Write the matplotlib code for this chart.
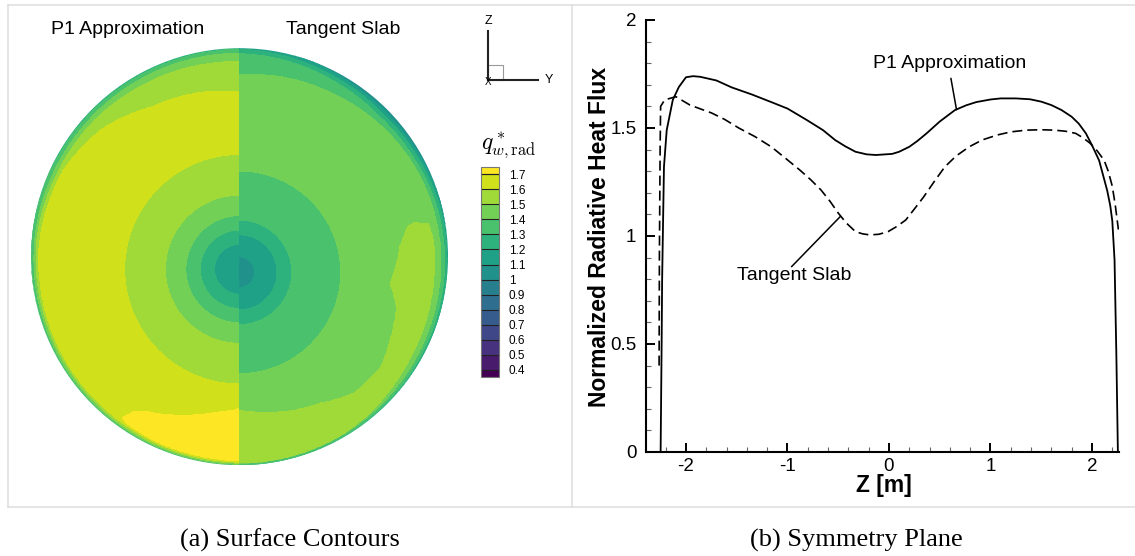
import numpy as np
import matplotlib
matplotlib.use("Agg")
import matplotlib.pyplot as plt
from matplotlib.patches import Circle, Rectangle
from matplotlib.ticker import MultipleLocator, FuncFormatter

W, H = 1135, 556

# (b) Symmetry plane: Z [m] -> normalized radiative heat flux
z_p1 = [-2.25, -2.24, -2.235, -2.217, -2.19, -2.13, -2.07, -2.0, -1.93, -1.86, -1.7,
        -1.55, -1.35, -1.16, -1.0, -0.81, -0.65, -0.53, -0.43, -0.33, -0.22, -0.13,
        0.03, 0.10, 0.20, 0.28, 0.37, 0.5, 0.65, 0.76, 0.86, 1.0, 1.10, 1.25, 1.39,
        1.5, 1.60, 1.7, 1.80, 1.87, 1.94, 2.0, 2.07, 2.11, 2.15, 2.18, 2.20, 2.222,
        2.24, 2.255]
q_p1 = [0.0, 0.5, 0.8, 1.32, 1.49, 1.63, 1.69, 1.735, 1.74, 1.737, 1.72,
        1.688, 1.655, 1.62, 1.59, 1.537, 1.49, 1.444, 1.415, 1.39, 1.378, 1.375,
        1.38, 1.39, 1.413, 1.44, 1.475, 1.53, 1.583, 1.605, 1.62, 1.632, 1.637, 1.637, 1.633,
        1.622, 1.606, 1.583, 1.552, 1.52, 1.475, 1.42, 1.35, 1.28, 1.21, 1.14, 1.07, 0.89,
        0.45, 0.0]

z_ts = [-2.265, -2.262, -2.255, -2.25, -2.21, -2.10, -1.96, -1.75, -1.62, -1.48, -1.32,
        -1.16, -1.02, -0.88, -0.77, -0.67, -0.58, -0.50, -0.42, -0.33, -0.26, -0.19,
        -0.10, -0.01, 0.08, 0.165, 0.25, 0.34, 0.45, 0.55, 0.66, 0.79, 0.92, 1.07,
        1.2, 1.35, 1.5, 1.63, 1.74, 1.84, 1.91, 1.98, 2.05, 2.12, 2.16, 2.20, 2.23, 2.26]
q_ts = [0.40, 0.9, 1.4, 1.60, 1.63, 1.645, 1.606, 1.57, 1.54, 1.50, 1.46,
        1.413, 1.36, 1.306, 1.26, 1.213, 1.16, 1.106, 1.06, 1.02, 1.01, 1.005,
        1.008, 1.02, 1.045, 1.074, 1.125, 1.18, 1.255, 1.32, 1.37, 1.413, 1.445, 1.468,
        1.482, 1.49, 1.492, 1.49, 1.485, 1.475, 1.455, 1.43, 1.395, 1.35, 1.30, 1.23, 1.14, 1.03]

# (a) Surface contours (radius = 1, angles from top in degrees)
levels = [0.4, 0.5, 0.6, 0.7, 0.8, 0.9, 1.0, 1.1, 1.2, 1.3, 1.4, 1.5, 1.6, 1.7]

# rings around the stagnation point: distance from ring centre -> value
left_ring_cy = -0.06
left_ring_d = [0.0, 0.12, 0.188, 0.257, 0.355, 0.55, 0.8]
left_ring_v = [1.15, 1.2, 1.3, 1.4, 1.5, 1.6, 1.65]
right_ring_cy = -0.075
right_ring_d = [0.0, 0.074, 0.18, 0.25, 0.485, 0.8]
right_ring_v = [1.05, 1.1, 1.2, 1.3, 1.4, 1.45]

# drop-off near the rim: radius where each level is crossed
left_rim_ang = [0, 30, 47, 64, 85, 120, 150, 180]
left_rim_16 = [0.79, 0.83, 0.898, 0.94, 0.96, 0.97, 0.975, 0.985]
left_rim_15 = [0.936, 0.945, 0.955, 0.96, 0.975, 0.98, 0.985, 0.99]
left_rim_14 = [0.976, 0.975, 0.975, 0.978, 0.985, 0.99, 0.992, 0.995]
left_rim_13 = [0.995, 0.993, 0.993, 0.995, 1.0, 1.01, 1.01, 1.01]

right_rim_ang = [0, 30, 45, 60, 75, 90, 120, 150, 180]
right_rim_14 = [0.872, 0.90, 0.92, 0.94, 0.955, 0.965, 0.975, 0.985, 0.99]
right_rim_13 = [0.975, 0.955, 0.95, 0.96, 0.975, 0.985, 0.99, 0.995, 1.0]
right_rim_12 = [0.995, 0.975, 0.97, 0.978, 0.99, 0.995, 1.0, 1.01, 1.01]
right_rim_11 = [1.02, 0.99, 0.985, 0.99, 1.0, 1.01, 1.02, 1.02, 1.02]

# hot patches: angle -> inner / outer radius
left_patch_ang = [144, 145.6, 150, 157.4, 170, 180]
left_patch_rin = [0.955, 0.90, 0.86, 0.823, 0.76, 0.728]
left_patch_rout = [0.955, 0.965, 0.968, 0.972, 0.975, 0.978]

right_hi_ang = [79, 80, 86, 100, 108, 119, 128, 140, 151, 180]
right_hi_rin = [0.85, 0.817, 0.772, 0.734, 0.792, 0.826, 0.86, 0.854, 0.803, 0.736]
right_hi_rout = [0.85, 0.92, 0.935, 0.94, 0.945, 0.95, 0.96, 0.975, 0.985, 0.995]


def in_band(rho, ang, ang_tab, rin_tab, rout_tab):
    """Маска области между двумя радиусами для заданных углов."""
    rin = np.interp(ang, ang_tab, rin_tab, left=2.0, right=2.0)
    rout = np.interp(ang, ang_tab, rout_tab, left=-1.0, right=-1.0)
    return (rho > rin) & (rho < rout)


def rim_limit(rho, ang, ang_tab, radii_tabs, vals):
    """Спад значения к кромке диска."""
    radii = [np.interp(ang, ang_tab, t) for t in radii_tabs]
    out = np.full(rho.shape, 9.0)
    for k in range(len(vals) - 1):
        r0, r1 = radii[k], radii[k + 1]
        m = (rho >= r0) & (rho < r1)
        t = (rho - r0) / (r1 - r0)
        out = np.where(m, vals[k] + t * (vals[k + 1] - vals[k]), out)
    out = np.where(rho >= radii[-1], vals[-1] - 0.05, out)
    return out


def half_field(u, w, side):
    rho = np.hypot(u, w)
    ang = np.degrees(np.arctan2(np.abs(u), w))
    if side == "left":
        f = np.interp(np.hypot(u, w - left_ring_cy), left_ring_d, left_ring_v)
        f = np.where(in_band(rho, ang, left_patch_ang, left_patch_rin, left_patch_rout), 1.75, f)
        f = np.minimum(f, rim_limit(rho, ang, left_rim_ang,
                                    [left_rim_16, left_rim_15, left_rim_14, left_rim_13],
                                    [1.6, 1.5, 1.4, 1.3]))
    else:
        f = np.interp(np.hypot(u, w - right_ring_cy), right_ring_d, right_ring_v)
        f = np.where(in_band(rho, ang, right_hi_ang, right_hi_rin, right_hi_rout), 1.55, f)
        f = np.minimum(f, rim_limit(rho, ang, right_rim_ang,
                                    [right_rim_14, right_rim_13, right_rim_12, right_rim_11],
                                    [1.4, 1.3, 1.2, 1.1]))
    return f


def main():
    plt.rcParams["font.family"] = ["Liberation Sans", "DejaVu Sans"]
    plt.rcParams["mathtext.fontset"] = "cm"
    fig = plt.figure(figsize=(W / 100, H / 100), dpi=100)

    colors15 = plt.cm.viridis(np.linspace(0, 1, 15))

    # --- (a) disc ---
    cx, cy, R = 239.5, 256.7, 208.5
    ax1 = fig.add_axes([(cx - R) / W, 1 - (cy + R) / H, 2 * R / W, 2 * R / H])
    ax1.set_xlim(-1, 1)
    ax1.set_ylim(-1, 1)
    ax1.axis("off")
    wv = np.linspace(-1.0, 1.0, 700)
    cs = None
    for side, uv in (("left", np.linspace(-1.0, 0.0, 350)), ("right", np.linspace(0.0, 1.0, 350))):
        U, V = np.meshgrid(uv, wv)
        F = half_field(U, V, side)
        cs_i = ax1.contourf(U, V, F, levels=levels, colors=colors15, extend="both")
        cs_i.set_clip_path(Circle((0, 0), 1.0, transform=ax1.transData))
        if cs is None:
            cs = cs_i

    cax = fig.add_axes([481 / W, 1 - 377 / H, 18 / W, 210 / H])
    cb = fig.colorbar(cs, cax=cax, extendrect=True, extendfrac=0.5 / 13,
                      drawedges=True, ticks=levels)
    cb.set_ticklabels(["%g" % v for v in levels])
    cb.ax.tick_params(length=0, labelsize=8.5, pad=7)
    cb.outline.set_edgecolor("#777777")
    cb.outline.set_linewidth(0.8)
    cb.dividers.set_color("#222222")
    cb.dividers.set_linewidth(0.8)

    # --- (b) symmetry plane ---
    ax2 = fig.add_axes([646 / W, 1 - 452 / H, 473 / W, 432 / H])
    ax2.plot(z_p1, q_p1, color="k", lw=1.3)
    ax2.plot(z_ts, q_ts, color="k", lw=1.2, dashes=(6, 3))
    ax2.set_xlim(-2.394, 2.266)
    ax2.set_ylim(0, 2)
    for s in ("top", "right"):
        ax2.spines[s].set_visible(False)
    for s in ("left", "bottom"):
        ax2.spines[s].set_linewidth(1.5)
    ax2.xaxis.set_major_locator(MultipleLocator(1))
    ax2.xaxis.set_minor_locator(MultipleLocator(0.2))
    ax2.yaxis.set_major_locator(MultipleLocator(0.5))
    ax2.yaxis.set_minor_locator(MultipleLocator(0.1))
    fmt = FuncFormatter(lambda v, p: "%g" % round(v, 2))
    ax2.xaxis.set_major_formatter(fmt)
    ax2.yaxis.set_major_formatter(fmt)
    ax2.tick_params(which="major", direction="in", length=6.5, width=1.4,
                    labelsize=13.5, pad=7)
    ax2.tick_params(axis="x", which="major", pad=4.5)
    ax2.tick_params(which="minor", direction="in", length=3.6, width=0.8, color="#666666")
    ax2.set_xlabel("Z [m]", fontsize=16.5, fontweight="bold")
    ax2.set_ylabel("Normalized Radiative Heat Flux", fontsize=16.5, fontweight="bold")
    ax2.xaxis.set_label_coords(0.503, -0.05)
    ax2.yaxis.set_label_coords(-0.074, 0.498)

    ax2.text(0.60, 1.80, "P1 Approximation", ha="center", va="center", fontsize=14)
    ax2.annotate("", xy=(0.665, 1.585), xytext=(0.61, 1.73),
                 arrowprops=dict(arrowstyle="-", lw=1.1, shrinkA=0, shrinkB=0))
    ax2.text(-0.936, 0.819, "Tangent Slab", ha="center", va="center", fontsize=14)
    ax2.annotate("", xy=(-0.48, 1.09), xytext=(-0.96, 0.858),
                 arrowprops=dict(arrowstyle="-", lw=1.1, shrinkA=0, shrinkB=0))

    # --- overlay in pixel coordinates: frame, titles, triad, captions ---
    ov = fig.add_axes([0, 0, 1, 1])
    ov.set_xlim(0, W)
    ov.set_ylim(H, 0)
    ov.axis("off")
    fc = "#dedede"
    ov.plot([8, W], [5, 5], color=fc, lw=1.1)
    ov.plot([8, W], [507, 507], color=fc, lw=1.1)
    ov.plot([8, 8], [5, 507], color=fc, lw=1.1)
    ov.plot([572, 572], [5, 507], color=fc, lw=1.1)

    ov.text(128, 29, "P1 Approximation", ha="center", va="center", fontsize=14)
    ov.text(343, 29, "Tangent Slab", ha="center", va="center", fontsize=14)
    ov.text(509, 145, r"$q^*_{w,\mathrm{rad}}$", ha="center", va="center", fontsize=17)

    ov.plot([488, 488], [31, 80], color="#222222", lw=1.5)
    ov.plot([488, 538], [80, 80], color="#222222", lw=1.5)
    ov.add_patch(Rectangle((488, 65), 15, 15, fill=False, edgecolor="#999999", lw=0.8))
    ov.text(488, 21, "Z", ha="center", va="center", fontsize=9)
    ov.text(549, 80, "Y", ha="center", va="center", fontsize=9)
    ov.text(488, 82, "X", ha="center", va="center", fontsize=7)

    ov.text(290, 540, "(a) Surface Contours", ha="center", va="center",
            fontsize=19, family="Liberation Serif")
    ov.text(856, 540, "(b) Symmetry Plane", ha="center", va="center",
            fontsize=19, family="Liberation Serif")

    fig.savefig("out.png", dpi=100)


if __name__ == "__main__":
    main()
